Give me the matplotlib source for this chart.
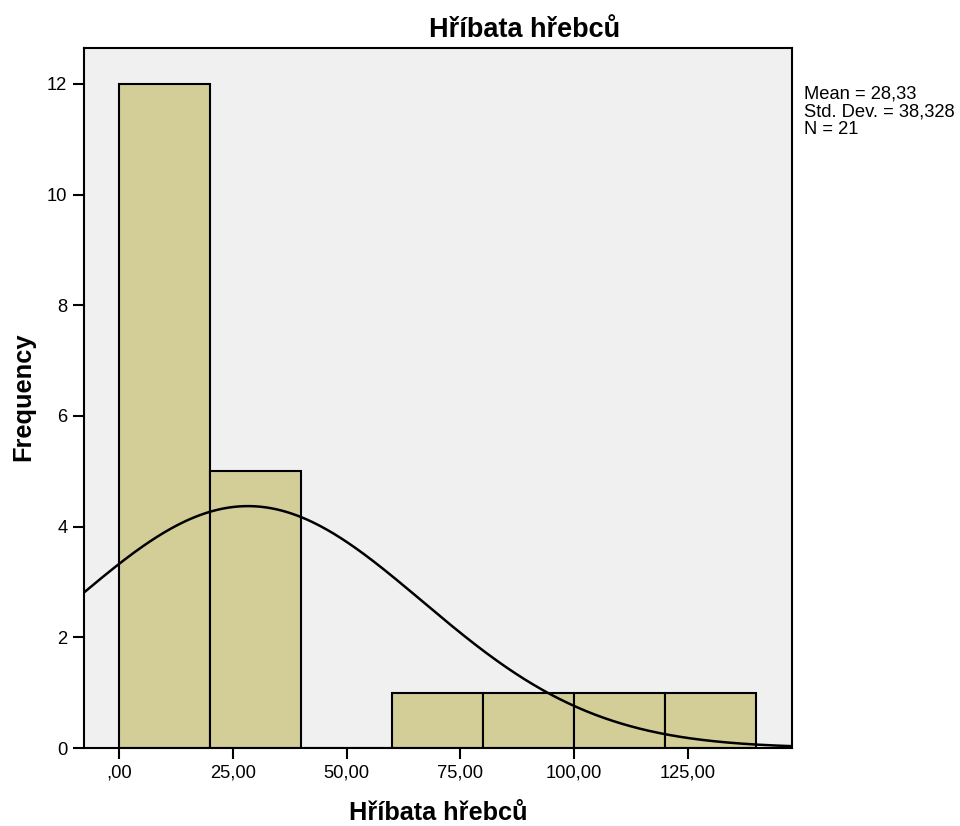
#!/usr/bin/env python3
import numpy as np
import matplotlib
matplotlib.use("Agg")
import matplotlib.pyplot as plt

plt.rcParams['font.family'] = ['Liberation Sans', 'DejaVu Sans']

# histogram data (bin width 20)
bin_left = [0, 20, 40, 60, 80, 100, 120]
counts = [12, 5, 0, 1, 1, 1, 1]
bin_width = 20

mean = 28.33
std = 38.328
n = 21

xticks = [0, 25, 50, 75, 100, 125]
xtick_labels = [",00", "25,00", "50,00", "75,00", "100,00", "125,00"]
yticks = [0, 2, 4, 6, 8, 10, 12]

fig = plt.figure(figsize=(9.6, 8.26), dpi=100)
ax = fig.add_axes([0.0875, 0.0944, 0.7375, 0.8475])
ax.set_facecolor("#F0F0F0")

ax.bar(bin_left, counts, width=bin_width, align="edge",
       color="#D3CE97", edgecolor="black", linewidth=1.5, zorder=2)

xmin, xmax = -7.7, 147.9
xs = np.linspace(xmin, xmax, 400)
ys = n * bin_width / (std * np.sqrt(2 * np.pi)) * np.exp(-0.5 * ((xs - mean) / std) ** 2)
ax.plot(xs, ys, color="black", linewidth=1.8, zorder=3)

ax.set_xlim(xmin, xmax)
ax.set_ylim(0, 12.65)
ax.set_xticks(xticks)
ax.set_xticklabels(xtick_labels)
ax.set_yticks(yticks)
ax.tick_params(axis="both", direction="out", length=8, width=1.5,
               labelsize=13.2, pad=4)

for s in ax.spines.values():
    s.set_linewidth(1.5)
    s.set_zorder(4)

fig.text(525 / 960, 1 - 37 / 826, "Hříbata hřebců", fontsize=19.5,
         fontweight="bold", ha="center", va="baseline")
ax.set_xlabel("Hříbata hřebců", fontsize=18.2, fontweight="bold", labelpad=14)
fig.text(23 / 960, 1 - 397 / 826, "Frequency", fontsize=18.3,
         fontweight="bold", rotation=90, ha="center", va="center")

fig.text(0.838, 0.896, "Mean = 28,33\nStd. Dev. = 38,328\nN = 21",
         fontsize=13.2, va="top", ha="left", linespacing=1.05)

fig.savefig("out.png", dpi=100)
